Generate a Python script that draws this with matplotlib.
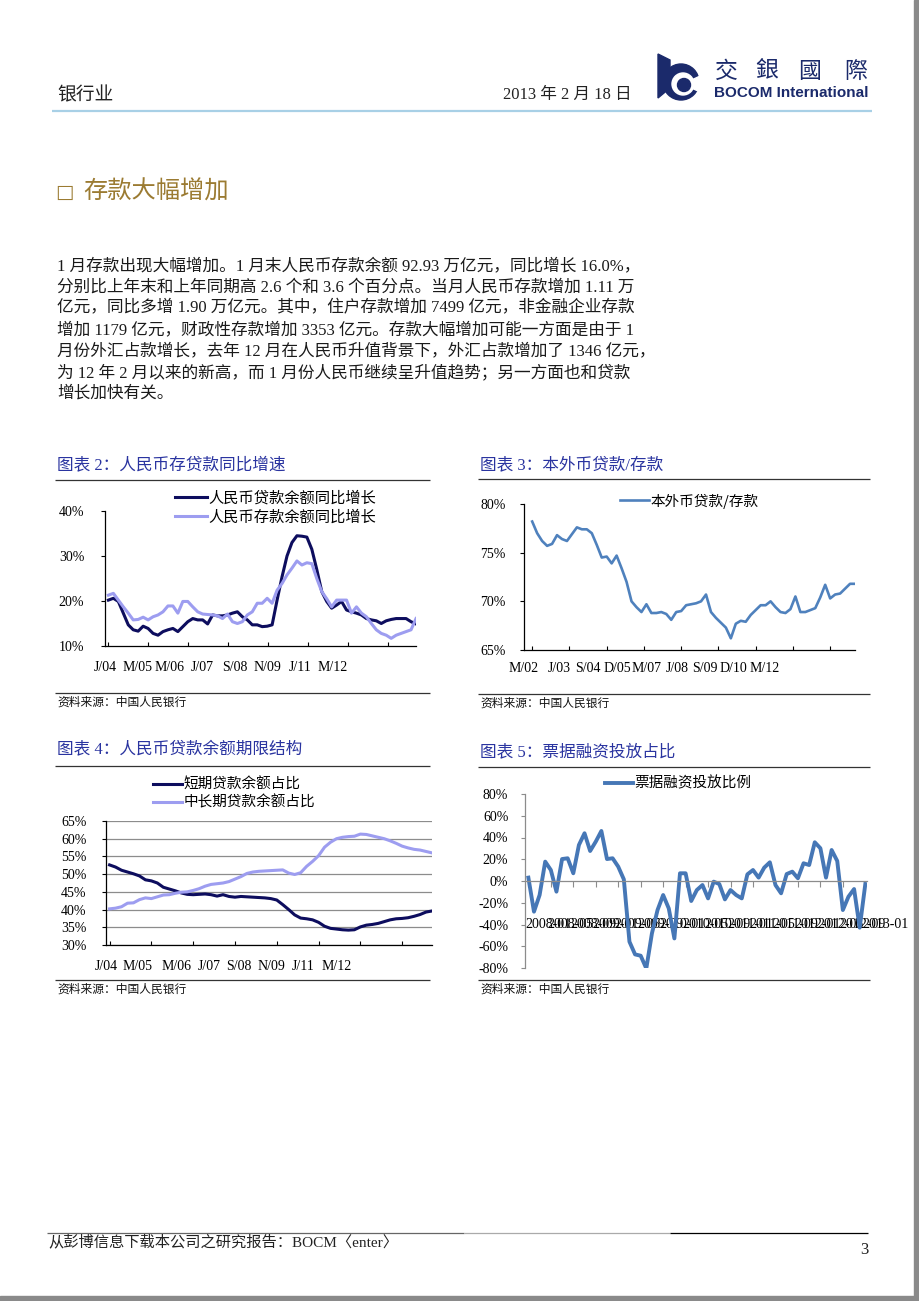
import matplotlib.pyplot as plt
import matplotlib.patches as mpatches
import numpy as np

plt.rcParams['font.family'] = ['Liberation Serif', 'Noto Sans CJK SC']
CJK = ['Noto Sans CJK SC', 'DejaVu Sans']
MIX = ['Liberation Serif', 'Noto Sans CJK SC']

# ---- 数据 ----
# 图表2: 人民币存贷款同比增速 (2004-01 .. 2013-01)
loan_yoy = [20.2, 20.6, 19.9, 17.3, 14.7, 13.6, 13.3, 14.4, 13.9, 12.8, 12.4, 13.2, 13.6, 13.9, 13.2, 14.3,
            15.4, 16.1, 15.8, 15.8, 14.9, 16.9, 16.7, 16.7, 16.9, 17.3, 17.6, 16.5, 15.8, 14.7, 14.7, 14.3,
            14.4, 14.7, 20.2, 25.4, 30.0, 33.0, 34.5, 34.4, 34.2, 31.5, 27.0, 22.1, 19.9, 18.4, 19.1, 19.9,
            18.0, 17.6, 17.3, 16.9, 16.1, 15.8, 15.6, 15.0, 15.6, 15.9, 16.1, 16.1, 16.1, 15.4, 14.9]
deposit_yoy = [21.3, 21.7, 20.2, 18.7, 17.3, 15.8, 15.9, 16.4, 15.8, 16.5, 16.9, 17.6, 18.9, 18.9, 17.3, 19.9,
               19.9, 18.7, 17.6, 17.1, 17.0, 16.9, 16.7, 16.1, 17.1, 15.4, 15.0, 15.4, 16.9, 17.6, 19.5, 19.5,
               20.6, 19.5, 22.4, 23.9, 25.8, 27.3, 28.9, 28.0, 28.5, 28.3, 25.0, 22.1, 20.5, 18.7, 20.2, 20.2,
               20.2, 17.3, 18.7, 17.3, 16.5, 15.0, 13.6, 12.8, 12.4, 11.7, 12.4, 12.8, 13.2, 13.6, 16.1]
labels_a = ['J/04', 'M/05', 'M/06', 'J/07', 'S/08', 'N/09', 'J/11', 'M/12']

# 图表3: 本外币贷款/存款 (2002-03 .. 2013-01, 每两个月)
ldr = [78.2, 77.0, 76.2, 75.7, 75.9, 76.8, 76.4, 76.2, 76.9, 77.6, 77.4, 77.4, 77.0, 75.8, 74.5, 74.6,
       73.9, 74.7, 73.4, 72.0, 70.0, 69.4, 68.9, 69.7, 68.8, 68.8, 68.9, 68.7, 68.1, 68.9, 69.0, 69.6,
       69.7, 69.8, 70.0, 70.7, 68.9, 68.3, 67.8, 67.3, 66.2, 67.7, 68.0, 67.9, 68.6, 69.1, 69.6, 69.6,
       70.0, 69.4, 68.9, 68.8, 69.2, 70.5, 68.9, 68.9, 69.1, 69.3, 70.4, 71.7, 70.3, 70.7, 70.8, 71.3,
       71.8, 71.8]
labels_b = ['M/02', 'J/03', 'S/04', 'D/05', 'M/07', 'J/08', 'S/09', 'D/10', 'M/12']

# 图表4: 人民币贷款余额期限结构 (2004-01 .. 2013-01, 每两个月)
short_share = [52.6, 52.0, 51.1, 50.6, 50.1, 49.5, 48.4, 48.1, 47.5, 46.3, 45.8, 45.3, 44.7, 44.3, 44.2,
               44.3, 44.4, 44.2, 43.8, 44.2, 43.7, 43.5, 43.7, 43.6, 43.5, 43.4, 43.3, 43.1, 42.7, 41.4,
               40.0, 38.5, 37.6, 37.4, 37.1, 36.4, 35.3, 34.7, 34.5, 34.3, 34.2, 34.3, 35.1, 35.6, 35.8,
               36.1, 36.6, 37.1, 37.4, 37.5, 37.7, 38.1, 38.6, 39.3, 39.6]
long_share = [40.2, 40.4, 40.8, 41.8, 41.9, 42.8, 43.3, 43.1, 43.6, 44.1, 44.2, 44.6, 44.9, 45.0, 45.4,
              45.9, 46.6, 47.1, 47.3, 47.5, 47.9, 48.6, 49.3, 50.2, 50.6, 50.8, 50.9, 51.0, 51.1, 51.2,
              50.3, 49.9, 50.4, 52.2, 53.6, 55.2, 57.6, 59.0, 60.0, 60.4, 60.6, 60.7, 61.3, 61.2, 60.8,
              60.4, 60.0, 59.4, 58.7, 57.9, 57.4, 57.0, 56.8, 56.4, 56.0]

# 图表5: 票据融资投放比例 (2008-01 .. 2013-01, 月度)
bill_ratio = [3.1, -28.2, -12.9, 17.8, 10.1, -9.8, 20.2, 20.9, 7.1, 33.1, 43.9, 27.6, 36.2, 46.0, 20.2,
              20.9, 13.2, 1.5, -55.8, -67.5, -68.7, -80.4, -48.2, -26.7, -12.9, -25.2, -52.8, 7.1, 7.1,
              -18.4, -8.3, -3.7, -16.0, -0.6, -2.8, -16.9, -8.3, -12.9, -16.0, 6.1, 10.1, 3.1, 12.3, 17.2,
              -3.7, -11.3, 6.4, 8.6, 2.5, 16.3, 14.7, 35.6, 30.1, 3.1, 28.5, 18.4, -26.7, -14.4, -7.4,
              -42.9, -2.8]
labels_c = ['2008-01', '2008-05', '2008-09', '2009-01', '2009-05', '2009-09', '2010-01', '2010-05',
            '2010-09', '2011-01', '2011-05', '2011-09', '2012-01', '2012-05', '2012-09', '2013-01']

paragraph = [
    '1 月存款出现大幅增加。1 月末人民币存款余额 92.93 万亿元，同比增长 16.0%，',
    '分别比上年末和上年同期高 2.6 个和 3.6 个百分点。当月人民币存款增加 1.11 万',
    '亿元，同比多增 1.90 万亿元。其中，住户存款增加 7499 亿元，非金融企业存款',
    '增加 1179 亿元，财政性存款增加 3353 亿元。存款大幅增加可能一方面是由于 1',
    '月份外汇占款增长，去年 12 月在人民币升值背景下，外汇占款增加了 1346 亿元，',
    '为 12 年 2 月以来的新高，而 1 月份人民币继续呈升值趋势；另一方面也和贷款',
    '增长加快有关。',
]

NAVY = '#0d0d5e'
LAV = '#9d9df0'
BLUE = '#4f81bd'
TITLE = '#2a34a0'
GOLD = '#9b7b32'

W, H = 920, 1301
fig = plt.figure(figsize=(W / 100, H / 100), dpi=100)
page = fig.add_axes([0, 0, 1, 1])
page.set_xlim(0, W)
page.set_ylim(H, 0)
page.axis('off')


def box(l, t, r, b):
    return [l / W, 1 - b / H, (r - l) / W, (b - t) / H]


def hline(y, x0, x1, color='#333333', lw=0.9):
    page.plot([x0, x1], [y, y], color=color, lw=lw, solid_capstyle='butt')


# ---- 页眉 ----
page.text(57, 95, '银行业', fontsize=13.5, family=CJK, va='center', color='#222222')
page.text(503, 95, '2013 年 2 月 18 日', fontsize=12, family=MIX, va='center', color='#222222')
hline(111, 52, 872, color='#a8d0e6', lw=1.6)

# 标志
page.add_patch(mpatches.Polygon([(658, 54), (670, 60), (670, 88), (658, 98)], closed=True, color='#1b2a6b'))
page.add_patch(mpatches.Circle((681, 82), 18, color='#1b2a6b'))
page.add_patch(mpatches.Circle((683, 84), 11, color='white'))
page.add_patch(mpatches.Wedge((683, 84), 20, -25, 25, color='white'))
page.add_patch(mpatches.Circle((684, 85), 6.5, color='#1b2a6b'))
for cx, ch in zip([726, 767, 810, 856], '交銀國際'):
    page.text(cx, 71, ch, fontsize=16.5, family=['Noto Sans CJK TC'], ha='center', va='center', color='#1b2a6b')
page.text(869, 93, 'BOCOM International', fontsize=11, family=['Liberation Sans'], weight='bold',
          ha='right', va='center', color='#1b2a6b')

# ---- 标题与正文 ----
page.text(55, 192, '□', fontsize=14, family=['DejaVu Sans'], va='center', color=GOLD)
page.text(83, 192, '存款大幅增加', fontsize=17.5, family=CJK, va='center', color=GOLD)
for i, line in enumerate(paragraph):
    page.text(57, 266 + i * 21.3, line, fontsize=12, family=MIX, va='center', color='#1a1a1a')

# ---- 图表标题、来源 ----
for x0, x1, ty, ly, sy, title in [
        (55, 430, 465, 480, 693, '图表 2：人民币存贷款同比增速'),
        (478, 870, 465, 479, 694, '图表 3：本外币贷款/存款'),
        (55, 430, 750, 766, 980, '图表 4：人民币贷款余额期限结构'),
        (478, 870, 752, 767, 980, '图表 5：票据融资投放占比')]:
    page.text(x0 + 2, ty, title, fontsize=12, family=MIX, va='center', color=TITLE)
    hline(ly, x0, x1)
    hline(sy, x0, x1)
    page.text(x0 + 2, sy + 9, '资料来源：中国人民银行', fontsize=8.5, family=CJK, va='center', color='#111111')

# ---- 页脚 ----
hline(1233, 47, 464, color='#666666')
hline(1233, 464, 670, color='#aaaaaa')
hline(1233, 670, 868, color='#000000')
page.text(48, 1242, '从彭博信息下载本公司之研究报告：BOCM〈enter〉', fontsize=11, family=MIX,
          va='center', color='#222222')
page.text(868, 1250, '3', fontsize=12, family=MIX, ha='right', va='center', color='#222222')
page.add_patch(mpatches.Rectangle((914, 0), 6, H, color='#8a8a8a'))
page.add_patch(mpatches.Rectangle((0, 1296), W, 5, color='#8a8a8a'))


def style(ax, ypad):
    ax.set_facecolor('none')
    for s in ['top', 'right']:
        ax.spines[s].set_visible(False)
    for s in ['left', 'bottom']:
        ax.spines[s].set_linewidth(0.9)
    ax.tick_params(axis='y', which='major', direction='out', length=3, width=0.8, pad=ypad, labelsize=10)
    ax.tick_params(axis='x', which='major', direction='in', length=3, width=0.8, labelbottom=False)


def leg(ax, x, y, fs, hl, sp):
    ax.legend(loc='upper left', bbox_to_anchor=(x, y), bbox_transform=page.transData, frameon=False,
              prop={'family': CJK, 'size': fs}, handlelength=hl, handletextpad=0.1, borderpad=0,
              borderaxespad=0, labelspacing=sp)


# ---- 图表2 ----
ax2 = fig.add_axes(box(105, 511, 416, 646))
x2 = np.linspace(0, 108, len(loan_yoy))
ax2.plot(x2, loan_yoy, color=NAVY, lw=2.2, label='人民币贷款余额同比增长')
ax2.plot(x2, deposit_yoy, color=LAV, lw=2.2, label='人民币存款余额同比增长')
ax2.set_xlim(0, 108)
ax2.set_ylim(10, 40)
style(ax2, 12)
ax2.set_yticks([10, 20, 30, 40], [f'{v}%' for v in [10, 20, 30, 40]])
ax2.set_xticks(np.arange(0, 108, 14))
ax2.set_xticks(np.arange(len(labels_a)) * 11.4 - 1.2, labels_a, minor=True)
ax2.tick_params(axis='x', which='minor', length=0, pad=10.5, labelsize=10)
leg(ax2, 175, 489.5, 11, 2.1, 0.12)

# ---- 图表3 ----
ax3 = fig.add_axes(box(524, 504, 855, 650))
x3 = np.arange(len(ldr)) * 2
ax3.plot(x3, ldr, color=BLUE, lw=1.9, label='本外币贷款/存款', solid_joinstyle='round')
ax3.set_xlim(0, 130)
ax3.set_ylim(65, 80)
style(ax3, 10)
ax3.set_yticks([65, 70, 75, 80], [f'{v}%' for v in [65, 70, 75, 80]])
ax3.set_xticks(np.arange(0, 130, 15))
ax3.set_xticks([-3.3, 10.9, 22.3, 34.1, 46.2, 58.5, 69.4, 80.9, 93.6], labels_b, minor=True)
ax3.tick_params(axis='x', which='minor', length=0, pad=8.5, labelsize=10)
leg(ax3, 620, 493.5, 10.5, 2.0, 0.2)

# ---- 图表4 ----
ax4 = fig.add_axes(box(106, 821, 432, 945))
x4 = np.arange(len(short_share)) * 2
ax4.plot(x4, short_share, color=NAVY, lw=2.2, label='短期贷款余额占比')
ax4.plot(x4, long_share, color=LAV, lw=2.2, label='中长期贷款余额占比')
ax4.set_xlim(0, 108)
ax4.set_ylim(30, 65)
style(ax4, 11)
ax4.set_yticks(np.arange(30, 66, 5), [f'{v}%' for v in range(30, 66, 5)])
ax4.yaxis.grid(True, color='#8c8c8c', lw=0.9)
ax4.set_axisbelow(True)
ax4.set_xticks(np.arange(0, 108, 14))
ax4.set_xticks([-1.2, 9.5, 22.3, 33.3, 43.3, 54.3, 64.8, 76.1], labels_a, minor=True)
ax4.tick_params(axis='x', which='minor', length=0, pad=10.5, labelsize=10)
leg(ax4, 153, 778, 10.5, 2.0, 0.22)

# ---- 图表5 ----
ax5 = fig.add_axes(box(525, 794, 867, 968))
x5 = np.arange(len(bill_ratio))
ax5.plot(x5, bill_ratio, color='#4677b6', lw=2.8, label='票据融资投放比例', solid_joinstyle='round')
ax5.set_xlim(0, 60.3)
ax5.set_ylim(-80, 80)
style(ax5, 9)
ax5.spines['bottom'].set_position(('data', 0))
for s in ['left', 'bottom']:
    ax5.spines[s].set_color('#8c8c8c')
ax5.tick_params(axis='both', which='major', colors='#8c8c8c', labelcolor='black')
ax5.tick_params(axis='x', which='major', direction='out', length=4)
ax5.set_yticks(np.arange(-80, 81, 20), [f'{v}%' for v in range(-80, 81, 20)])
ax5.set_xticks(np.arange(0, 61, 4))
ax5.set_xticks(np.arange(0, 61, 4) - 0.6, labels_c, minor=True)
ax5.tick_params(axis='x', which='minor', length=0, pad=27, labelsize=10)
for t in ax5.get_xticklabels(minor=True):
    t.set_ha('left')
leg(ax5, 605, 776.5, 10.5, 1.9, 0.2)

fig.savefig('out.png', dpi=100)
